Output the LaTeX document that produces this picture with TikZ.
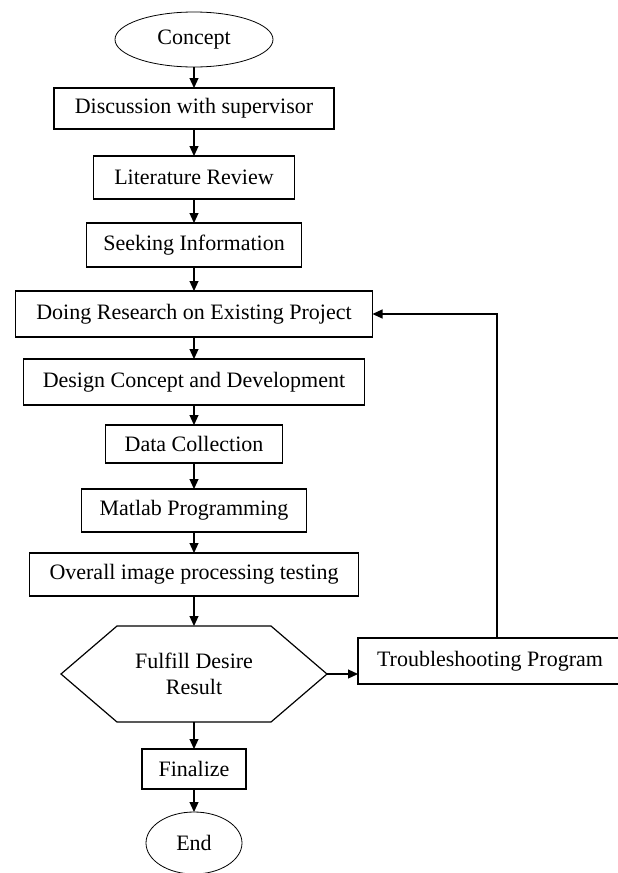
\documentclass[tikz,border=0pt]{standalone}
\usepackage{fontspec}
\setmainfont{Liberation Serif}
\usetikzlibrary{shapes.geometric,arrows.meta,positioning,calc}
\tikzstyle{block}=[rectangle, draw, line width=1.2pt, inner sep=0pt, outer sep=0pt, align=center]
\tikzstyle{term}=[ellipse, draw, line width=0.8pt, inner sep=0pt, outer sep=0pt]
\tikzstyle{line}=[draw, line width=1.2pt, -{Triangle[length=10pt,width=9pt]}]

\begin{document}
\begin{tikzpicture}[x=1pt,y=1pt,font=\fontsize{22}{25}\selectfont]
	\useasboundingbox (0,0) rectangle (618,-873);
	\node[term, minimum width=158pt, minimum height=55pt] (concept) at (194,-39.5) {Concept};
	\node[block, below=21pt of concept, minimum width=280pt, minimum height=41pt] (discuss) {Discussion with supervisor};
	\node[block, below=27pt of discuss, minimum width=201pt, minimum height=43pt] (review) {Literature Review};
	\node[block, below=24pt of review, minimum width=215pt, minimum height=44pt] (seek) {Seeking Information};
	\node[block, below=24pt of seek, minimum width=357pt, minimum height=46pt] (research) {Doing Research on Existing Project};
	\node[block, below=22pt of research, minimum width=341pt, minimum height=46pt] (design) {Design Concept and Development};
	\node[block, below=20pt of design, minimum width=177pt, minimum height=38pt] (data) {Data Collection};
	\node[block, below=26pt of data, minimum width=225pt, minimum height=43pt] (matlab) {Matlab Programming};
	\node[block, below=21pt of matlab, minimum width=329pt, minimum height=43pt] (overall) {Overall image processing testing};
	\node[below=30pt of overall, minimum width=266pt, minimum height=96pt, inner sep=0pt, outer sep=0pt, align=center,
		font=\fontsize{22}{26}\selectfont] (dec) {Fulfill Desire\\Result};
	\draw[line width=1.2pt] ([xshift=56pt]dec.north west) -- ([xshift=-56pt]dec.north east) -- (dec.east)
		-- ([xshift=-56pt]dec.south east) -- ([xshift=56pt]dec.south west) -- (dec.west) -- cycle;
	\node[block, right=31pt of dec, yshift=13pt, minimum width=264pt, minimum height=46pt] (trouble) {Troubleshooting Program};
	\node[block, below=27pt of dec, minimum width=104pt, minimum height=40pt] (final) {Finalize};
	\node[term, below=23pt of final, minimum width=96pt, minimum height=62pt] (end) {End};
	\coordinate (back) at ([xshift=7pt]trouble.north);

	\path[line]
	(concept) edge (discuss)
	(discuss) edge (review)
	(review) edge (seek)
	(seek) edge (research)
	(research) edge (design)
	(design) edge (data)
	(data) edge (matlab)
	(matlab) edge (overall)
	(overall) edge (dec)
	(dec) edge (final)
	(final) edge (end);
	\draw[line] (dec.east) -- (dec.east -| trouble.west);
	\draw[line] (back) |- (research.east);
\end{tikzpicture}
\end{document}
